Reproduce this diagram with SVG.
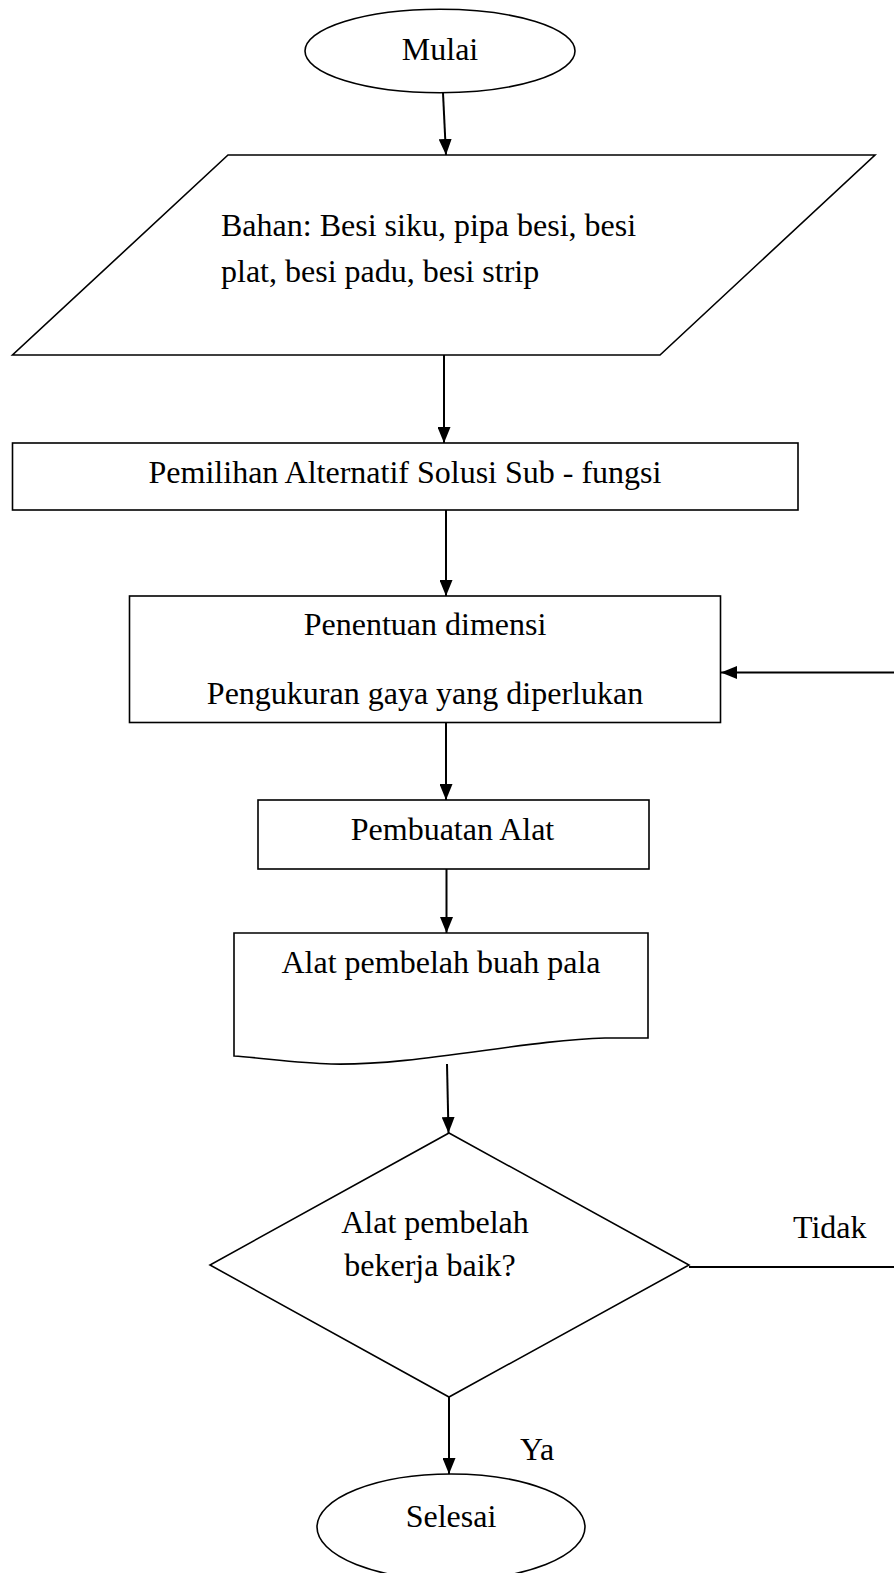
<svg xmlns="http://www.w3.org/2000/svg" width="894" height="1573" viewBox="0 0 894 1573">
<style>
.s{fill:#fff;stroke:#000;stroke-width:1.6}
.t{font-family:"Liberation Serif","Times New Roman",serif;font-size:32px;fill:#000}
.m{text-anchor:middle}
.c{fill:none;stroke:#000;stroke-width:2}
</style>
<defs>
<marker id="ah" viewBox="0 0 16 13" refX="16" refY="6.5" markerWidth="16" markerHeight="13" markerUnits="userSpaceOnUse" orient="auto">
<path d="M0,0 L16,6.5 L0,13 z" fill="#000"/>
</marker>
</defs>
<rect width="894" height="1573" fill="#fff"/>
<g id="connectors">
<line class="c" x1="443" y1="93" x2="446" y2="155" marker-end="url(#ah)"/>
<line class="c" x1="444" y1="355" x2="444" y2="443" marker-end="url(#ah)"/>
<line class="c" x1="446" y1="510" x2="446" y2="596" marker-end="url(#ah)"/>
<line class="c" x1="446" y1="723" x2="446" y2="800" marker-end="url(#ah)"/>
<line class="c" x1="446.5" y1="869" x2="446.5" y2="933" marker-end="url(#ah)"/>
<line class="c" x1="447" y1="1064" x2="448.5" y2="1133" marker-end="url(#ah)"/>
<line class="c" x1="449" y1="1397" x2="449" y2="1474" marker-end="url(#ah)"/>
<line class="c" x1="894" y1="672.5" x2="721" y2="672.5" marker-end="url(#ah)"/>
<line class="c" x1="689" y1="1267" x2="894" y2="1267"/>
<text class="t" x="793" y="1238">Tidak</text>
<text class="t" x="520" y="1460">Ya</text>
</g>
<g id="start">
<ellipse class="s" cx="440" cy="51" rx="135" ry="41.7"/>
<text class="t m" x="440" y="60">Mulai</text>
</g>
<g id="input">
<polygon class="s" points="228,155 875,155 660,355 12.5,355"/>
<text class="t" x="221" y="236">Bahan: Besi siku, pipa besi, besi</text>
<text class="t" x="221" y="282">plat, besi padu, besi strip</text>
</g>
<g id="pemilihan">
<rect class="s" x="12.5" y="443" width="785.5" height="67"/>
<text class="t m" x="405" y="482.5">Pemilihan Alternatif Solusi Sub - fungsi</text>
</g>
<g id="penentuan">
<rect class="s" x="129.5" y="596" width="591" height="126.5"/>
<text class="t m" x="425" y="635">Penentuan dimensi</text>
<text class="t m" x="425" y="704">Pengukuran gaya yang diperlukan</text>
</g>
<g id="pembuatan">
<rect class="s" x="258" y="800" width="391" height="69"/>
<text class="t m" x="452.5" y="840">Pembuatan Alat</text>
</g>
<g id="alat">
<path class="s" d="M234,933 H648 V1038 H605 C525,1040 415,1066 331,1064 C300,1063 262,1058 234,1056 Z"/>
<text class="t m" x="441" y="973">Alat pembelah buah pala</text>
</g>
<g id="decision">
<polygon class="s" points="449,1133 689,1265 449,1397 210,1265"/>
<text class="t m" x="435" y="1233">Alat pembelah</text>
<text class="t m" x="430" y="1276">bekerja baik?</text>
</g>
<g id="end">
<ellipse class="s" cx="451" cy="1527" rx="134" ry="53"/>
<text class="t m" x="451" y="1527">Selesai</text>
</g>
</svg>
